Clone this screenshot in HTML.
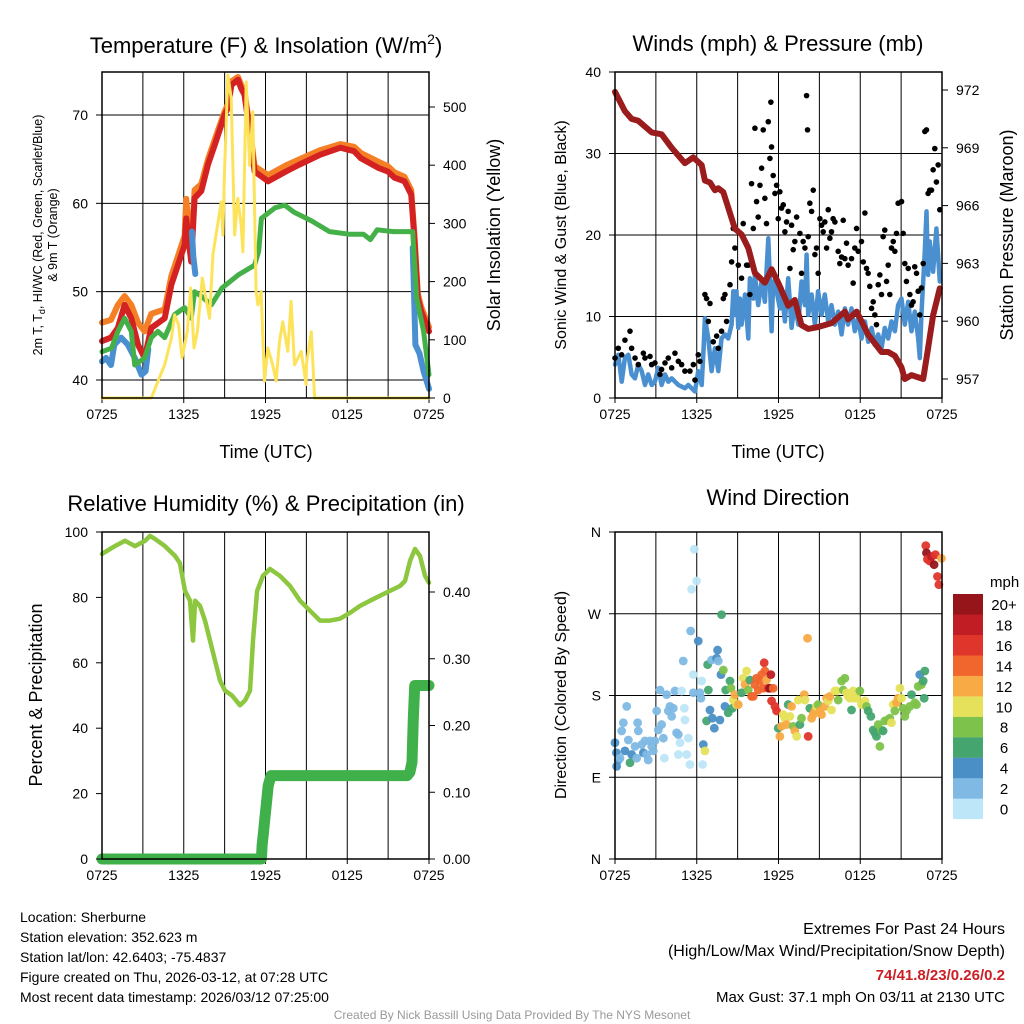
<!DOCTYPE html>
<html><head><meta charset="utf-8"><style>
html,body{margin:0;padding:0;background:#fff;}
svg{display:block;font-family:"Liberation Sans",Arial,sans-serif;}
</style></head><body>
<svg id="s" width="1024" height="1024" viewBox="0 0 1024 1024">
<g id="static">
<text x="266" y="53" font-size="22" text-anchor="middle">Temperature (F) &amp; Insolation (W/m<tspan font-size="14" dy="-9">2</tspan><tspan dy="9">)</tspan></text>
<text x="778" y="51" font-size="22" text-anchor="middle">Winds (mph) &amp; Pressure (mb)</text>
<text x="266" y="511" font-size="22" text-anchor="middle">Relative Humidity (%) &amp; Precipitation (in)</text>
<text x="778" y="505" font-size="22" text-anchor="middle">Wind Direction</text>
<text x="266" y="458" font-size="18" text-anchor="middle">Time (UTC)</text>
<text x="778" y="458" font-size="18" text-anchor="middle">Time (UTC)</text>
<text transform="translate(42,235) rotate(-90)" font-size="12.5" text-anchor="middle">2m T, T<tspan font-size="9" dy="3">d</tspan><tspan dy="-3">, HI/WC (Red, Green, Scarlet/Blue)</tspan></text>
<text transform="translate(57,235) rotate(-90)" font-size="12.5" text-anchor="middle">&amp; 9m T (Orange)</text>
<text transform="translate(500,235) rotate(-90)" font-size="18" text-anchor="middle">Solar Insolation (Yellow)</text>
<text transform="translate(566,235) rotate(-90)" font-size="16" text-anchor="middle">Sonic Wind &amp; Gust (Blue, Black)</text>
<text transform="translate(1013,235) rotate(-90)" font-size="18" text-anchor="middle">Station Pressure (Maroon)</text>
<text transform="translate(42,695) rotate(-90)" font-size="18" text-anchor="middle">Percent &amp; Precipitation</text>
<text transform="translate(566,695) rotate(-90)" font-size="16" text-anchor="middle">Direction (Colored By Speed)</text>
<g font-size="14">
<text x="20" y="922">Location: Sherburne</text>
<text x="20" y="942">Station elevation: 352.623 m</text>
<text x="20" y="962">Station lat/lon: 42.6403; -75.4837</text>
<text x="20" y="982">Figure created on Thu, 2026-03-12, at 07:28 UTC</text>
<text x="20" y="1002">Most recent data timestamp: 2026/03/12 07:25:00</text>
</g>
<g font-size="15" text-anchor="end">
<text x="1005" y="934" font-size="16">Extremes For Past 24 Hours</text>
<text x="1005" y="956" font-size="16">(High/Low/Max Wind/Precipitation/Snow Depth)</text>
<text x="1005" y="980" font-weight="bold" fill="#cc2026">74/41.8/23/0.26/0.2</text>
<text x="1005" y="1002">Max Gust: 37.1 mph On 03/11 at 2130 UTC</text>
</g>
<text x="512" y="1019" font-size="12" fill="#999" text-anchor="middle">Created By Nick Bassill Using Data Provided By The NYS Mesonet</text>
<text x="990" y="587" font-size="15">mph</text>
</g>
</svg>
<script>
// ---- Panel 1 data (hours since 0725 UTC) ----
const tempT=[0,0.66,1.17,1.66,2.15,2.64,3.13,3.62,4.6,5.09,5.57,6.06,6.18,6.55,6.8,7.29,7.78,8.27,9.0,9.24,9.5,9.98,10.22,10.46,10.83,11.2,12.2,13.5,14.5,16.0,17.5,18.5,19.0,20.3,20.98,21.47,22.2,22.69,22.93,23.18,23.42,24];
const tempV=[44.4,44.8,45.9,48.5,47,44,42.5,45.9,47,50.8,53,55.3,58.3,53.4,60.6,61.4,64.4,66.6,70,70.8,73.4,74,73,72.3,68.2,63.6,62.5,63.6,64.4,65.5,66.3,65.9,65.1,64,63.6,62.9,62.5,61,56,49.3,47.8,45.5];
const orangeV=[46.5,46.8,48.5,49.5,48.5,46.5,45.5,47.5,48,51.8,54,56.3,60.5,54.5,61.5,62.2,65,67.2,70.4,71.2,73.8,74.3,73.4,72.6,68.7,64.2,63.2,64.3,65.0,66.0,66.7,66.4,65.7,64.7,64.2,63.5,63.0,61.5,56.5,49.8,48.3,46.0];
const dewT=[0,0.7,1.17,1.66,2.15,2.4,3.13,3.62,4.1,4.6,5.33,6.06,6.55,6.8,7.29,8.02,8.8,10.0,11.2,11.5,11.7,12.7,13.4,14.1,15.4,16.7,18.2,19.2,19.7,20.2,21.4,22.8,23.1,23.6,24];
const dewV=[43.2,43.6,45.5,47,45.5,41.7,42.5,44.8,45.5,44.8,47.4,48.2,47,50,49.5,48.5,50.4,51.9,53,54.6,58.3,59.5,59.8,59,58,56.8,56.5,56.5,55.9,57,56.8,56.8,49.3,45.5,40.6];
// HI/WC only visible where it departs from T; null = gap
const hiT=[0,0.3,0.66,0.9,1.4,1.9,2.4,2.9,3.2,3.4,null,6.6,6.7,6.85,null,22.8,22.9,23.0,23.3,23.6,24];
const hiV=[42.1,42.5,41.7,44,44.8,44,42.5,40.6,41,43.5,null,56.8,54,52,null,55,50,44,43,41,39];
const solT=[0,3.62,4.11,4.6,5.09,5.33,5.62,5.87,6.26,6.5,6.75,7.0,7.36,7.9,8.14,8.75,8.87,8.99,9.24,9.48,9.73,9.97,10.22,10.34,10.58,10.83,11.07,11.31,11.44,11.68,11.93,12.17,12.53,12.78,13.03,13.27,13.64,13.88,14.13,14.62,14.98,15.0,15.36,15.6,24];
const solV=[0,0,29,57,103,143,126,69,114,189,86,114,206,137,246,337,280,389,555,515,280,343,297,251,543,400,492,183,160,183,29,86,57,29,97,131,80,166,57,80,23,57,114,0,0];
// ---- Panel 2 data ----
const windT=[0,0.24,0.49,0.73,0.98,1.22,1.47,1.71,1.96,2.2,2.44,2.69,2.93,3.18,3.42,3.67,3.91,4.16,4.65,5.13,5.38,5.87,6.11,6.36,6.5,6.6,6.85,7.09,7.33,7.58,7.82,8.07,8.31,8.56,8.68,8.8,8.92,9.05,9.17,9.29,9.54,9.78,9.9,10.15,10.27,10.51,10.76,11.0,11.12,11.25,11.37,11.49,11.61,11.86,12.1,12.22,12.47,12.71,12.96,13.2,13.45,13.69,13.94,14.06,14.18,14.43,14.67,14.91,15.16,15.4,15.65,15.89,16.14,16.38,16.63,16.87,17.11,17.36,17.6,17.85,18.09,18.34,18.58,18.83,19.07,19.32,19.56,19.8,20.05,20.29,20.54,20.78,21.03,21.27,21.52,21.76,22.0,22.25,22.37,22.49,22.74,22.86,22.98,23.1,23.35,23.59,23.84];
const windV=[4.1,5.3,2.0,4.9,5.3,2.9,2.4,4.1,3.3,1.6,2.9,1.6,2.0,3.7,1.6,2.9,2.0,2.4,1.6,1.2,1.6,0.8,3.3,1.6,6.1,9.8,7.3,3.3,6.1,3.3,7.3,7.8,7.3,9.0,13.1,10.2,13.1,8.6,12.2,9.0,12.7,7.3,14.7,12.2,15.1,11.4,14.3,11.8,15.5,19.6,14.3,8.2,14.3,13.1,11.0,13.5,9.4,14.7,8.6,11.8,9.0,14.3,11.4,17.6,10.2,12.7,9.0,13.1,10.2,12.7,9.4,11.4,9.0,10.6,7.8,11.0,9.0,11.0,8.2,9.8,7.3,9.4,6.9,8.6,6.5,7.8,6.1,8.6,7.3,9.4,8.2,11.4,12.2,9.0,11.8,8.2,10.6,7.3,4.9,10.2,18.0,22.9,15.1,19.2,15.5,20.8,14.3];
const presT=[0,0.73,1.22,1.71,2.69,3.42,4.16,5.13,5.75,6.36,6.6,6.97,7.33,7.58,7.95,8.8,9.29,9.78,10.27,11.0,11.49,11.98,12.71,13.2,13.69,14.18,14.91,15.89,16.87,17.11,17.73,18.09,18.58,19.56,20.05,20.54,21.03,21.27,21.76,22.62,22.98,23.35,23.84];
const presV=[971.9,970.9,970.5,970.4,969.8,969.7,969.0,968.2,968.5,968.1,967.3,967.2,966.8,966.9,966.7,964.8,964.5,963.8,962.5,962.0,962.7,962.0,960.8,961.1,959.8,959.6,959.7,959.9,960.5,960.1,960.5,960.0,959.3,958.4,958.4,958.2,957.6,957.0,957.2,957.0,958.6,960.3,961.7];
const gustT=[0,0.24,0.49,0.73,1.1,1.22,1.47,1.71,2.08,2.2,2.57,2.69,2.93,3.3,3.42,3.67,3.91,4.16,4.4,4.65,4.89,5.13,5.5,5.75,5.87,6.11,6.23,6.6,6.72,6.97,6.85,7.21,7.46,7.58,7.82,7.95,8.07,8.19,8.44,8.56,8.8,8.68,9.05,9.29,9.41,9.66,9.78,9.9,10.02,10.15,10.27,10.39,10.51,10.64,10.76,10.88,11.0,11.12,11.25,11.37,11.44,11.49,11.61,11.74,11.86,11.98,12.1,12.22,12.35,12.47,12.59,12.71,12.84,12.96,13.08,13.2,13.33,13.57,13.69,13.81,13.94,14.06,14.13,14.18,14.3,14.43,14.55,14.67,14.79,14.91,15.04,15.16,15.28,15.4,15.53,15.65,15.77,15.89,16.01,16.14,16.38,16.5,16.63,16.75,16.87,16.99,17.11,17.36,17.48,17.6,17.73,17.85,18.09,18.22,18.34,18.46,18.58,18.7,18.83,18.95,19.07,19.19,19.32,19.44,19.56,19.68,19.8,19.93,20.05,20.17,20.29,20.42,20.54,20.66,20.78,21.03,21.15,21.27,21.39,21.52,21.64,21.76,21.88,22.0,22.13,22.25,22.37,22.49,22.62,22.74,22.86,22.98,23.1,23.23,23.35,23.47,23.59,23.72,23.84];
const gustV=[4.9,6.1,5.3,7.1,8.2,6.1,4.9,4.1,5.5,4.9,5.1,4.1,4.3,2.9,3.5,4.3,4.9,3.7,5.5,4.5,4.1,3.3,3.3,4.1,2.2,5.3,4.5,12.7,12.2,11.6,9.4,6.9,7.6,6.1,8.2,12.2,12.7,9.4,13.9,16.7,18.4,20.8,16.3,14.7,21.4,16.3,16.3,12.7,26.3,20.8,33.1,24.1,22.2,26.1,28.2,32.9,24.5,21.4,33.9,29.4,36.3,30.8,27.3,25.1,26.1,22.0,25.3,23.3,23.7,20.4,21.6,22.9,15.9,21.2,18.2,19.2,22.2,20.2,15.3,19.2,18.4,37.1,32.9,19.8,23.9,22.9,25.5,17.6,18.4,15.3,22.0,21.2,20.4,21.6,18.4,23.1,19.6,20.4,22.0,21.6,18.0,16.5,17.3,21.8,17.1,19.0,16.3,17.1,14.1,18.4,20.8,18.0,19.2,16.7,22.7,15.9,15.3,13.7,11.0,11.8,10.2,9.0,13.9,15.1,12.7,19.8,20.6,14.3,16.3,12.7,18.4,19.2,18.0,20.2,23.9,24.1,20.2,16.5,14.3,15.9,12.7,11.4,11.8,16.1,15.3,13.1,10.2,13.5,16.5,32.7,32.9,25.1,25.5,25.5,28.0,30.6,26.5,28.6,23.1];
// ---- Panel 3 data ----
const rhT=[0,0.95,1.69,2.42,3.16,3.52,3.89,4.62,5.36,5.72,6.09,6.46,6.68,6.83,7.19,7.56,7.93,8.29,8.66,9.03,9.54,10.13,10.5,10.86,11.08,11.38,11.82,12.33,13.06,13.8,14.53,15.27,16.0,16.73,17.47,18.2,18.94,19.67,20.4,21.14,21.87,22.24,22.61,22.97,23.34,23.71,24];
const rhV=[93.3,95.7,97.3,95.7,97.3,98.8,97.9,95.7,92.7,90.5,82,79,66.8,79,77.4,72.9,66.8,60.7,54.6,51.5,50,47,48.5,51.5,66.8,82,86.6,88.7,86.6,83.5,79,75.9,72.9,72.9,73.5,75.3,77.4,79,80.5,82,83.5,85,91.2,94.8,92.7,86.6,84.5];
const precT=[0,11.7,11.75,11.85,11.95,12.05,12.2,12.4,22.4,22.6,22.75,22.85,22.95,24];
const precV=[0,0,0.02,0.04,0.06,0.08,0.11,0.125,0.125,0.13,0.145,0.21,0.26,0.26];
// ---- Panel 4 data ----
const dirT=[0.0,0.1,0.12,0.24,0.37,0.49,0.61,0.73,0.86,0.98,1.1,1.22,1.47,1.59,1.66,1.71,1.96,2.08,2.2,2.32,2.44,2.57,2.69,2.81,2.93,3.06,3.18,3.3,3.42,3.55,3.62,3.79,3.91,4.03,4.16,4.28,4.4,4.52,4.65,4.77,4.65,4.89,5.01,5.09,5.13,5.26,5.38,5.5,5.55,5.62,5.75,5.75,5.82,5.99,6.11,6.23,6.31,6.36,6.43,6.48,6.6,6.72,6.8,6.85,6.97,7.09,7.14,7.29,7.46,7.53,7.58,7.7,7.78,7.82,7.95,8.07,8.12,8.31,8.44,8.51,8.61,8.68,8.8,8.92,9.05,9.29,9.41,9.54,9.66,9.78,9.9,10.02,10.15,10.27,10.39,10.51,10.64,10.76,10.88,10.95,11.0,11.12,11.25,11.37,11.44,11.49,11.61,11.74,11.86,11.98,12.1,12.22,12.35,12.47,12.59,12.71,12.84,12.96,13.08,13.2,13.33,13.45,13.57,13.69,13.89,13.94,14.13,14.18,14.3,14.43,14.55,14.67,14.79,14.91,15.04,15.16,15.4,15.53,15.65,15.77,15.89,16.14,16.26,16.38,16.63,16.75,16.87,16.99,17.11,17.24,17.36,17.48,17.6,17.73,17.97,18.09,18.34,18.46,18.58,18.78,18.95,19.07,19.19,19.32,19.44,19.56,19.68,19.8,20.0,20.17,20.29,20.42,20.54,20.66,20.78,20.91,21.03,21.15,21.27,21.39,21.64,21.76,22.0,22.13,22.25,22.37,22.49,22.62,22.69,22.74,22.81,22.86,22.93,23.1,23.23,23.42,23.52,23.67,23.77,23.96];
const dirV=[128,117,102,109,111,141,150,119,168,131,106,115,124,111,150,141,126,117,130,115,109,130,124,119,130,163,142,186,148,133,111,181,163,168,157,166,185,139,137,128,115,185,218,166,153,115,133,104,251,297,203,183,341,306,240,183,177,196,104,126,119,152,214,186,164,219,155,144,221,230,218,153,203,269,208,168,186,161,196,188,166,175,181,170,170,183,199,192,207,186,197,179,179,192,199,186,196,203,188,216,207,197,188,188,203,174,188,168,163,144,135,146,159,155,148,170,157,168,146,141,135,175,148,155,181,175,243,135,166,155,159,163,168,170,163,159,168,177,174,179,164,185,185,175,196,186,199,183,179,177,164,185,177,177,185,170,174,168,163,157,142,139,135,148,124,142,141,152,153,155,150,170,163,172,177,188,177,166,157,163,168,181,172,170,190,203,192,196,177,207,345,337,330,328,333,324,335,311,302,331];
const dirS=[4,4,4,4,2,2,2,4,2,2,6,4,2,2,2,2,2,4,2,2,2,2,2,2,2,2,2,2,2,2,0,2,2,2,2,2,2,2,2,0,0,0,2,0,0,0,0,0,2,0,0,2,0,0,4,2,2,0,0,4,10,6,6,6,4,2,4,4,4,4,2,4,4,6,8,4,6,6,6,8,6,10,12,10,12,6,10,12,10,8,6,14,14,14,14,14,14,14,14,16,14,12,16,20,18,16,14,16,16,6,12,12,10,10,12,6,10,12,8,12,10,10,6,8,12,10,12,16,6,12,12,12,10,8,12,12,12,12,10,12,10,10,10,8,8,8,8,10,10,10,6,10,10,10,8,10,10,8,6,6,6,6,6,8,8,8,6,8,8,8,10,10,8,12,12,10,10,8,8,8,8,6,8,8,8,4,8,6,6,6,16,20,16,16,18,20,16,16,16,12];
const speedBins=["0","2","4","6","8","10","12","14","16","18","20+"];
const binColors=["#bde6f8","#7fb9e4","#4a8fc6","#45a56f","#7dc24b","#e6e15a","#f8aa45","#f0662c","#e0352b","#c01d25","#95151b"];
const timeTicks=["0725","1325","1925","0125","0725"];

const NS="http://www.w3.org/2000/svg";
const svg=document.getElementById('s');
function el(tag,attrs,parent){const e=document.createElementNS(NS,tag);for(const k in attrs)e.setAttribute(k,attrs[k]);(parent||svg).appendChild(e);return e;}
function lin(d0,d1,r0,r1){return v=>r0+(v-d0)/(d1-d0)*(r1-r0);}

function panel(name,L,T,R,B,hGridVals,yScale){
  const g=el('g',{});
  
  
  const x=lin(0,24,L,R);
  for(let h=3;h<24;h+=3){const l=el('line',{x1:x(h),x2:x(h),y1:T,y2:B,stroke:'#000','stroke-width':1},g);
    
    }
  hGridVals.forEach(v=>{const l=el('line',{x1:L,x2:R,y1:yScale(v),y2:yScale(v),stroke:'#000','stroke-width':1},g);
    
    });
  timeTicks.forEach((lab,i)=>{const tx=el('text',{x:x(i*6),y:B+21,'font-size':14,'text-anchor':'middle'},g);tx.textContent=lab;
    
    
    const tk=el('line',{x1:x(i*6),x2:x(i*6),y1:B,y2:B+5,stroke:'#000'},g);
    
    });
  return {g,x};
}
function frame(name,L,T,R,B){const r=el('rect',{x:L,y:T,width:R-L,height:B-T,fill:'none',stroke:'#000','stroke-width':1.5});
  
  }
function yTicks(name,vals,labels,scale,xAxis,side,g){vals.forEach((v,i)=>{const y=scale(v);
  const tk=el('line',{x1:xAxis,x2:xAxis+(side<0?-6:6),y1:y,y2:y,stroke:'#000'},g);
  
  
  const t=el('text',{x:xAxis+(side<0?-14:14),y:y+5,'font-size':14,'text-anchor':side<0?'end':'start'},g);t.textContent=labels[i];
  
  });}
function line(xs,ys,sx,sy,color,w,g,name){let d='',pen=false;
  xs.forEach((t,i)=>{if(t===null||ys[i]===null){pen=false;return;}
    d+=(pen?'L':'M')+sx(t).toFixed(1)+','+sy(ys[i]).toFixed(1);pen=true;});
  const p=el('path',{d:d,fill:'none',stroke:color,'stroke-width':w,'stroke-linejoin':'round','stroke-linecap':'round'},g);
  
  }

// Panel 1
{const L=102,T=72,R=429,B=398;const yT=lin(40,70,380,115),yS=lin(0,500,398,107);
 const P=panel('temperature',L,T,R,B,[40,50,60,70],yT);
 line(tempT,orangeV,P.x,yT,'#f47f25',6,P.g,'temp-9m-line');
 line(tempT,tempV,P.x,yT,'#d42222',6,P.g,'temp-2m-line');
 line(hiT,hiV,P.x,yT,'#4a90d0',6,P.g,'hi-wc-line');
 line(dewT,dewV,P.x,yT,'#43b048',5,P.g,'dewpoint-line');
 line(solT,solV,P.x,yS,'#fde35a',3,P.g,'insolation-line');
 frame('temperature',L,T,R,B);
 yTicks('temp-y',[40,50,60,70],['40','50','60','70'],yT,L,-1,P.g);
 yTicks('solar-y',[0,100,200,300,400,500],['0','100','200','300','400','500'],yS,R,1,P.g);}
// Panel 2
{const L=615,T=72,R=942,B=398;const yW=lin(0,40,398,72),yP=lin(957,972,379,90);
 const P=panel('wind',L,T,R,B,[10,20,30],yW);
 line(windT,windV,P.x,yW,'#4a90d0',4.5,P.g,'sonic-wind-line');
 gustT.forEach((t,i)=>{const c=el('circle',{cx:P.x(t),cy:yW(gustV[i]),r:2.8,fill:'#000'},P.g);
   
   });
 line(presT,presV,P.x,yP,'#9b1c1c',6,P.g,'pressure-line');
 frame('wind',L,T,R,B);
 yTicks('wind-y',[0,10,20,30,40],['0','10','20','30','40'],yW,L,-1,P.g);
 yTicks('pressure-y',[957,960,963,966,969,972],['957','960','963','966','969','972'],yP,R,1,P.g);}
// Panel 3
{const L=102,T=532,R=429,B=859;const yR=lin(0,100,859,532),yPr=lin(0,0.4,859,592);
 const P=panel('humidity',L,T,R,B,[],yR);
 line(rhT,rhV,P.x,yR,'#8dc63f',4.5,P.g,'rh-line');
 line(precT,precV,P.x,yPr,'#40b04a',11,P.g,'precip-line');
 frame('humidity',L,T,R,B);
 yTicks('rh-y',[0,20,40,60,80,100],['0','20','40','60','80','100'],yR,L,-1,P.g);
 yTicks('precip-y',[0,0.1,0.2,0.3,0.4],['0.00','0.10','0.20','0.30','0.40'],yPr,R,1,P.g);}
// Panel 4
{const L=615,T=532,R=942,B=859;const yD=lin(0,360,859,532);
 const P=panel('direction',L,T,R,B,[90,180,270],yD);
 dirT.forEach((t,i)=>{const b=Math.min(10,Math.floor(dirS[i]/2));
   const c=el('circle',{cx:P.x(t),cy:yD(dirV[i]),r:4.4,fill:binColors[b],'fill-opacity':0.95},P.g);
   
   });
 frame('direction',L,T,R,B);
 yTicks('dir-y',[0,90,180,270,360],['N','E','S','W','N'],yD,L,-1,P.g);
 const cb=el('g',{});
 
 
 speedBins.forEach((lab,i)=>{const top=594+(10-i)*20.45;
   const r=el('rect',{x:953,y:top,width:30,height:20.6,fill:binColors[i]},cb);
   
   
   const t=el('text',{x:1004,y:top+16,'font-size':15,'text-anchor':'middle'},cb);t.textContent=lab;
   
   });}
</script>
</body></html>
